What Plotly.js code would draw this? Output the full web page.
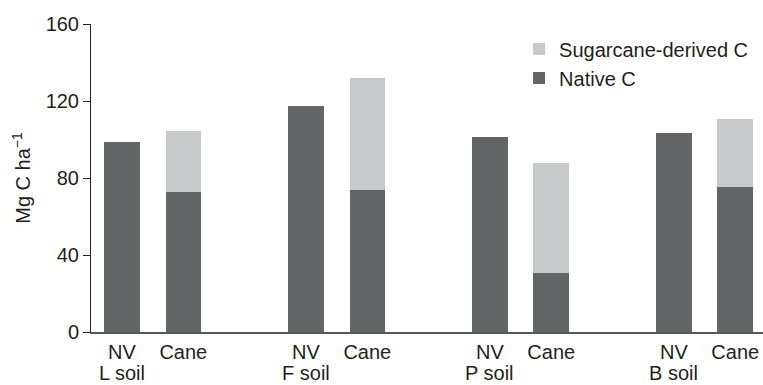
<!DOCTYPE html>
<html>
<head>
<meta charset="utf-8">
<script src="https://cdn.plot.ly/plotly-3.0.1.min.js"></script>
<style>html,body{margin:0;padding:0;background:#fff;}#chart{width:763px;height:385px;}</style>
</head>
<body>
<div id="chart"></div>
<script>
// Data
const soils = ['L soil', 'F soil', 'P soil', 'B soil'];
const treatments = ['NV', 'Cane'];
// Native C per bar, in order: L NV, L Cane, F NV, F Cane, P NV, P Cane, B NV, B Cane
const nativeC = [98.7, 72.6, 117.6, 73.7, 101.5, 30.4, 103.4, 75.2];
// Sugarcane-derived C (only under cane)
const sugarcaneC = [null, 31.8, null, 58.5, null, 57.3, null, 35.5];
const yTicks = [0, 40, 80, 120, 160];

// positions derived from group/treatment indices (one empty slot between soils)
const xPos = [];
const xLabels = [];
soils.forEach((s, i) => treatments.forEach((t, j) => { xPos.push(i * 3 + j); xLabels.push(t); }));

const FONT = '"Liberation Sans", Arial, Helvetica, sans-serif';
const DARK = '#636466';
const LIGHT = '#c8c9cb';

const traces = [
  {type: 'bar', name: 'Native C', x: xPos, y: nativeC, width: 0.58,
   marker: {color: DARK, line: {width: 0}}, hoverinfo: 'skip'},
  {type: 'bar', name: 'Sugarcane-derived C', x: xPos, y: sugarcaneC, width: 0.58,
   marker: {color: LIGHT, line: {width: 0}}, hoverinfo: 'skip'}
];

const annotations = soils.map((s, i) => ({
  text: s, x: i * 3, xref: 'x', y: 0, yref: 'paper', yshift: -28,
  xanchor: 'center', yanchor: 'top', showarrow: false,
  font: {family: FONT, size: 20, color: '#231f20'}
}));

const layout = {
  width: 763, height: 385,
  margin: {l: 91, r: 0, t: 24, b: 53, pad: 0},
  paper_bgcolor: '#fff', plot_bgcolor: '#fff',
  barmode: 'stack',
  font: {family: FONT, size: 20, color: '#231f20'},
  showlegend: true,
  legend: {x: 0.637, y: 0.982, xanchor: 'left', yanchor: 'top', traceorder: 'reversed',
           bgcolor: 'rgba(0,0,0,0)', borderwidth: 0,
           font: {family: FONT, size: 20, color: '#231f20'}},
  xaxis: {range: [-0.5055, 10.453], tickmode: 'array', tickvals: xPos, ticktext: xLabels,
          showline: true, linecolor: '#58595b', linewidth: 1.5, ticks: '', showgrid: false,
          zeroline: false, fixedrange: true, ticklabelstandoff: 1,
          tickfont: {family: FONT, size: 20, color: '#231f20'}},
  yaxis: {range: [0, 160], tickmode: 'array', tickvals: yTicks,
          showline: true, linecolor: '#231f20', linewidth: 1, ticks: 'outside', ticklen: 7,
          tickcolor: '#231f20', tickwidth: 1, showgrid: false, zeroline: false, fixedrange: true,
          tickfont: {family: FONT, size: 20, color: '#231f20'},
          title: {text: 'Mg C ha<sup>\u22121</sup>', standoff: 9,
                  font: {family: FONT, size: 20, color: '#231f20'}}},
  annotations: annotations
};

Plotly.newPlot('chart', traces, layout, {displayModeBar: false, staticPlot: true});
</script>
</body>
</html>
